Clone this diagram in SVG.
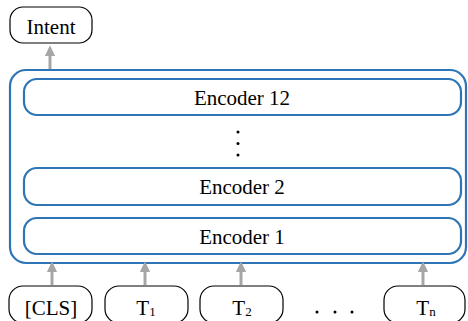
<svg xmlns="http://www.w3.org/2000/svg" width="468" height="321" viewBox="0 0 468 321">
<style>
.t{font-family:"Liberation Serif","Times New Roman",serif;font-size:21px;fill:#000;text-anchor:middle}
.blk{fill:#fff;stroke:#000;stroke-width:1.2}
.blu{fill:#fff;stroke:#2E75B6;stroke-width:2.2}
.arr{stroke:#A6A6A6;stroke-width:3;fill:none;marker-end:url(#ah)}
</style>
<defs>
<marker id="ah" markerWidth="4" markerHeight="4" refX="2" refY="2" orient="auto" markerUnits="strokeWidth">
<path d="M0,0.3 L3.6,2 L0,3.7 Z" fill="#A6A6A6"/>
</marker>
</defs>
<rect width="468" height="321" fill="#fff"/>
<g id="intent"><rect class="blk" x="10" y="7" width="82" height="36" rx="13"/><text class="t" x="51" y="34">Intent</text></g>
<g id="outer"><rect class="blu" x="10" y="70" width="456" height="193" rx="16"/></g>
<g id="enc12"><rect class="blu" x="24" y="79" width="437" height="36" rx="13"/><text class="t" x="242" y="105">Encoder 12</text></g>
<g id="vdots"><circle cx="238" cy="132" r="1.5"/><circle cx="238" cy="143.5" r="1.5"/><circle cx="238" cy="155" r="1.5"/></g>
<g id="enc2"><rect class="blu" x="24" y="168" width="437" height="37" rx="13"/><text class="t" x="242" y="194">Encoder 2</text></g>
<g id="enc1"><rect class="blu" x="24" y="218" width="437" height="36" rx="13"/><text class="t" x="242" y="244">Encoder 1</text></g>
<g id="cls"><rect class="blk" x="9" y="286" width="83" height="37" rx="14"/><text class="t" x="51" y="315">[CLS]</text></g>
<g id="t1"><rect class="blk" x="105" y="286" width="83" height="37" rx="14"/><text class="t" x="146" y="315">T<tspan font-size="13" dy="1">1</tspan></text></g>
<g id="t2"><rect class="blk" x="200" y="286" width="83" height="37" rx="14"/><text class="t" x="242" y="315">T<tspan font-size="13" dy="1">2</tspan></text></g>
<g id="hdots"><circle cx="317" cy="312" r="1.5"/><circle cx="335" cy="312" r="1.5"/><circle cx="352" cy="312" r="1.5"/></g>
<g id="tn"><rect class="blk" x="384" y="286" width="81" height="37" rx="14"/><text class="t" x="426" y="315">T<tspan font-size="13" dy="1">n</tspan></text></g>
<g id="connectors">
<line class="arr" x1="50" y1="69" x2="50" y2="50"/>
<line class="arr" x1="52" y1="285" x2="52" y2="266"/>
<line class="arr" x1="145" y1="285" x2="145" y2="266"/>
<line class="arr" x1="241" y1="285" x2="241" y2="266"/>
<line class="arr" x1="423" y1="285" x2="423" y2="266"/>
</g>
</svg>
